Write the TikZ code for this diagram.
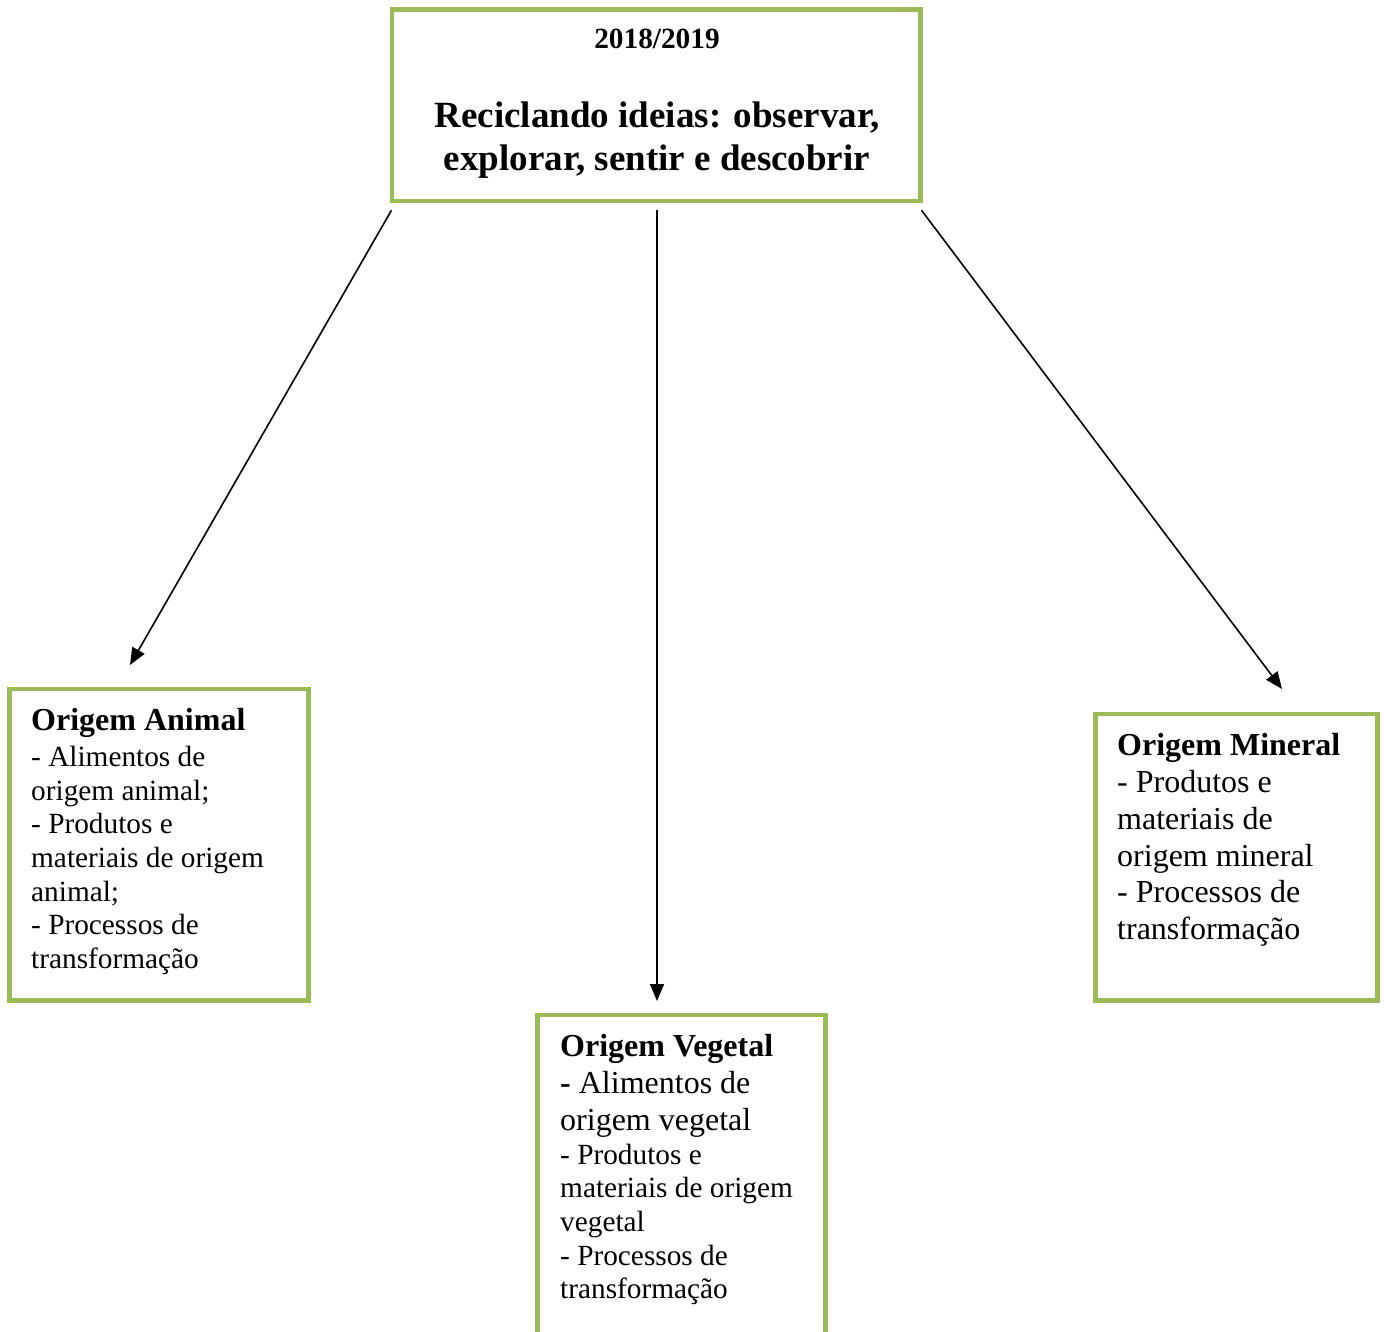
\documentclass[tikz,border=0pt]{standalone}
\usepackage{fontspec}
\setmainfont{Liberation Serif}
\usetikzlibrary{arrows.meta}
\definecolor{boxgreen}{HTML}{9BBB59}
\begin{document}
\begin{tikzpicture}[x=1pt,y=-1pt,
  box/.style={draw=boxgreen,line width=4.5pt,rectangle,inner sep=0pt,fill=none},
  hd/.style={anchor=base west,inner sep=0pt,font=\fontsize{32}{36.8}\selectfont\bfseries},
  bl/.style={anchor=base west,inner sep=0pt,font=\fontsize{32}{36.8}\selectfont},
  sl/.style={anchor=base west,inner sep=0pt,font=\fontsize{29.3}{33.7}\selectfont},
  conn/.style={draw=black,line width=1.6pt,-{Triangle[length=17pt,width=14pt]}}]
\useasboundingbox (0,0) rectangle (1384,1331);
% boxes
\node[box,minimum width=528.5pt,minimum height=191.5pt] (top) at (656,105.25) {};
\node[box,minimum width=299pt,minimum height=311.5pt] (animal) at (159,844.75) {};
\node[box,minimum width=282pt,minimum height=286.5pt] (mineral) at (1236.5,857.25) {};
\node[box,minimum width=288pt,minimum height=340pt] (vegetal) at (681.5,1185) {};
% title
\node[anchor=base,inner sep=0pt,font=\fontsize{29.3}{33.7}\selectfont\bfseries] (year) at (657,48) {2018/2019};
\node[anchor=base,inner sep=0pt,font=\fontsize{37}{43}\selectfont\bfseries] (t1) at (657,127) {Reciclando ideias: observar,};
\node[anchor=base,inner sep=0pt,font=\fontsize{37}{43}\selectfont\bfseries] (t2) at (657,170) {explorar, sentir e descobrir};
% animal
\node[hd] (a0) at (31,730) {Origem Animal};
\node[sl] (a1) at (31,766) {- Alimentos de};
\node[sl] (a2) at (31,800) {origem animal;};
\node[sl] (a3) at (31,833.5) {- Produtos e};
\node[sl] (a4) at (31,867) {materiais de origem};
\node[sl] (a5) at (31,901) {animal;};
\node[sl] (a6) at (31,934.5) {- Processos de};
\node[sl] (a7) at (31,968) {transformação};
% mineral
\node[hd] (m0) at (1117,755) {Origem Mineral};
\node[bl] (m1) at (1117,792) {- Produtos e};
\node[bl] (m2) at (1117,829) {materiais de};
\node[bl] (m3) at (1117,866) {origem mineral};
\node[bl] (m4) at (1117,902.5) {- Processos de};
\node[bl] (m5) at (1117,939.5) {transformação};
% vegetal
\node[hd] (v0) at (560,1056) {Origem Vegetal};
\node[bl] (v1) at (560,1093) {\textbf{-} Alimentos de};
\node[bl] (v2) at (560,1130) {origem vegetal};
\node[sl] (v3) at (560,1164) {- Produtos e};
\node[sl] (v4) at (560,1197.5) {materiais de origem};
\node[sl] (v5) at (560,1231) {vegetal};
\node[sl] (v6) at (560,1265) {- Processos de};
\node[sl] (v7) at (560,1298.5) {transformação};
% connectors
\coordinate (s1) at ([xshift=2pt,yshift=-7pt]top.south west);
\coordinate (s2) at ([xshift=1pt,yshift=-7pt]top.south);
\coordinate (s3) at ([xshift=-1pt,yshift=-7pt]top.south east);
\coordinate (e1) at (130,665);
\coordinate (e2) at (657,1001);
\coordinate (e3) at (1282,689);
\draw[conn] (s1) -- (e1);
\draw[conn] (s2) -- (e2);
\draw[conn] (s3) -- (e3);
\end{tikzpicture}
\end{document}
